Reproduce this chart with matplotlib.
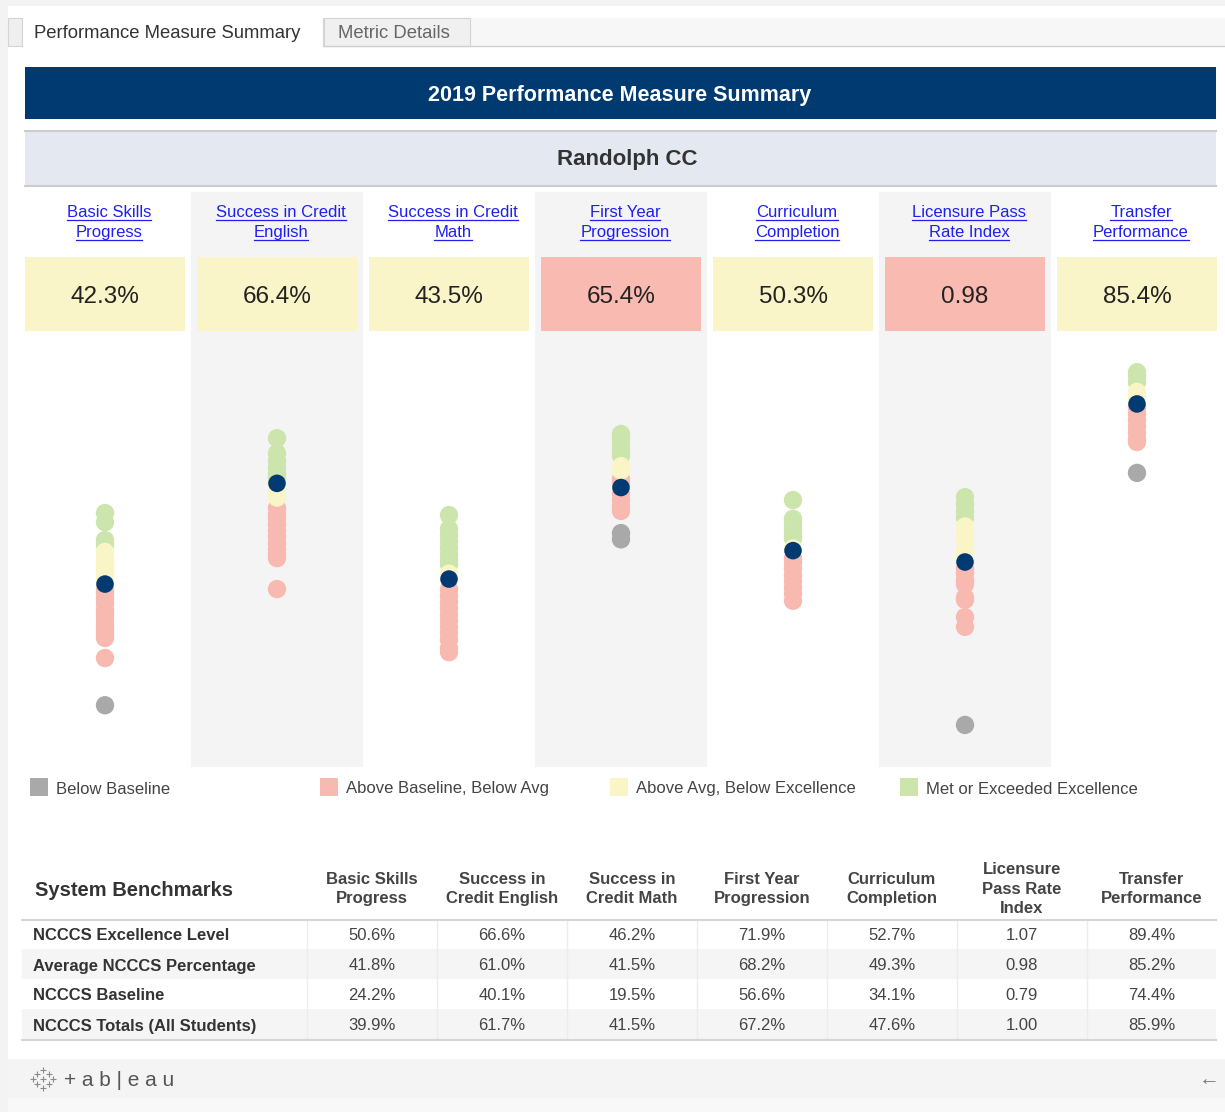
import matplotlib
matplotlib.use('Agg')
import matplotlib.pyplot as plt
from matplotlib.patches import Rectangle
from matplotlib import font_manager

plt.rcParams['font.family'] = ['Liberation Sans', 'DejaVu Sans']

# narrow font for the benchmark table, if there is one
try:
    font_manager.findfont('Liberation Sans Narrow', fallback_to_default=False)
    NARROW = ['Liberation Sans Narrow', 'Liberation Sans']
except Exception:
    NARROW = ['Liberation Sans', 'DejaVu Sans']

# ---- data ----
college = 'Randolph CC'
year = 2019
link_titles = [['Basic Skills', 'Progress'], ['Success in Credit', 'English'],
               ['Success in Credit', 'Math'], ['First Year', 'Progression'],
               ['Curriculum', 'Completion'], ['Licensure Pass', 'Rate Index'],
               ['Transfer', 'Performance']]
table_heads = ['Basic Skills\nProgress', 'Success in\nCredit English', 'Success in\nCredit Math',
               'First Year\nProgression', 'Curriculum\nCompletion', 'Licensure\nPass Rate\nIndex',
               'Transfer\nPerformance']
is_index = [False, False, False, False, False, True, False]

college_vals = [42.3, 66.4, 43.5, 65.4, 50.3, 0.98, 85.4]
college_level = [2, 2, 2, 1, 2, 1, 2]   # 0 below base, 1 base-avg, 2 avg-excellence, 3 excellence

excellence = [50.6, 66.6, 46.2, 71.9, 52.7, 1.07, 89.4]
average = [41.8, 61.0, 41.5, 68.2, 49.3, 0.98, 85.2]
baseline = [24.2, 40.1, 19.5, 56.6, 34.1, 0.79, 74.4]
totals = [39.9, 61.7, 41.5, 67.2, 47.6, 1.00, 85.9]
row_labels = ['NCCCS Excellence Level', 'Average NCCCS Percentage', 'NCCCS Baseline',
              'NCCCS Totals (All Students)']

# other colleges
basic_skills = [59.3, 57.1, 52.8, 51.6, 50.0, 49.0, 48.0, 47.0, 46.0, 45.0, 44.0, 43.0,
                41.0, 40.0, 38.7, 37.5, 36.0, 35.0, 33.8, 32.5, 31.5, 30.5, 29.4, 24.6, 13.3]
credit_english = [77.2, 73.6, 71.8, 70.2, 68.8, 67.5, 65.5, 64.3, 63.0,
                  60.5, 59.0, 57.9, 56.5, 55.0, 53.5, 52.0, 50.5, 49.5, 48.5, 41.1]
credit_math = [58.8, 55.5, 54.0, 52.5, 51.0, 49.5, 48.0, 47.0, 44.8,
               41.0, 39.5, 38.0, 36.5, 35.0, 33.5, 32.0, 30.5, 29.0, 27.0, 26.0]
first_year = [78.2, 77.0, 75.5, 74.1, 73.0, 70.5, 69.5,
              67.5, 66.5, 64.0, 62.5, 61.0, 59.8, 54.5, 53.0]
curriculum = [62.4, 57.9, 56.5, 55.2, 54.0, 53.2, 50.8,
              48.5, 47.5, 46.0, 44.5, 43.0, 41.5, 40.0, 38.3]
licensure = [1.126, 1.11, 1.095, 1.08, 1.06, 1.045, 1.03, 1.01, 0.995,
             0.965, 0.955, 0.94, 0.93, 0.90, 0.895, 0.856, 0.834, 0.613]
transfer = [93.0, 92.0, 90.5, 88.3, 87.0, 84.5, 83.0, 81.5, 80.0, 78.5, 77.0, 76.3, 68.9]
colleges = [basic_skills, credit_english, credit_math, first_year, curriculum, licensure, transfer]

legend_labels = ['Below Baseline', 'Above Baseline, Below Avg',
                 'Above Avg, Below Excellence', 'Met or Exceeded Excellence']

# ---- styles ----
LEVEL_COLORS = ['#a9a9a9', '#f8b9b0', '#faf5c6', '#cbe5ac']
BOX_COLORS = ['#a9a9a9', '#f9bab1', '#faf5c8', '#cbe5ac']
NAVY = '#003a70'
LINK = '#1f1fef'


def level(v, i):
    if v >= excellence[i]:
        return 3
    if v >= average[i]:
        return 2
    if v >= baseline[i]:
        return 1
    return 0


W, H = 1225, 1112
fig = plt.figure(figsize=(W / 100, H / 100), dpi=100)
bg = fig.add_axes([0, 0, 1, 1])
bg.set_xlim(0, W)
bg.set_ylim(H, 0)
bg.axis('off')


def rect(x0, y0, x1, y1, color, z=0, **kw):
    bg.add_patch(Rectangle((x0, y0), x1 - x0, y1 - y0, facecolor=color,
                           edgecolor=kw.pop('ec', 'none'), zorder=z, **kw))


# frame, tabs
rect(0, 0, 8, H, '#f3f3f3')
rect(0, 0, W, 6, '#f3f3f3')
rect(8, 18, W, 46, '#f7f7f7')
rect(8, 18, 22, 46, '#efefef', ec='#d4d4d4', lw=0.8)
rect(22, 18, 323, 47, 'white', z=1)
bg.plot([22, 22], [18, 46], color='#d4d4d4', lw=0.8, zorder=2)
bg.plot([323, 323], [18, 46], color='#d4d4d4', lw=0.8, zorder=2)
rect(324, 18, 470, 46, '#f0f0f0', ec='#d4d4d4', lw=0.8)
bg.plot([323, W], [46, 46], color='#d0d0d0', lw=1)
bg.text(34, 34, 'Performance Measure Summary', fontsize=13.3, color='#333333', va='center')
bg.text(338, 34, 'Metric Details', fontsize=13.3, color='#666666', va='center')

# banners
rect(25, 67, 1216, 119, NAVY)
bg.text(620, 96, f'{year} Performance Measure Summary', color='white', fontsize=15.5,
        fontweight='bold', ha='center', va='center')
rect(25, 131, 1216, 186, '#e4e8f0')
bg.plot([25, 1216], [131, 131], color='#cccccc', lw=1.5)
bg.plot([25, 1216], [186, 186], color='#cccccc', lw=1.5)
bg.text(627, 160, college, color='#333333', fontsize=16, fontweight='bold',
        ha='center', va='center')

COLW = 172
link_texts = []
for i in range(7):
    x0 = 25 + COLW * i
    cx = x0 + 80
    if i % 2 == 1:
        rect(x0 - 6, 192, x0 + COLW - 6, 767, '#f4f4f4')
    for k, line in enumerate(link_titles[i]):
        yb = 217 + 20 * k
        t = bg.text(cx + 4, yb, line, color=LINK, fontsize=12, ha='center', va='baseline')
        link_texts.append((t, yb))
    rect(x0, 257, x0 + 160, 331, BOX_COLORS[college_level[i]])
    v = college_vals[i]
    s = f'{v:.2f}' if is_index[i] else f'{v:.1f}%'
    bg.text(cx, 297, s, fontsize=17.5, color='#222222', ha='center', va='center')

    # dot strip, one axis per measure
    ax = fig.add_axes([x0 / W, 1 - 765 / H, 160 / W, 430 / H])
    ax.set_xlim(-1, 1)
    if is_index[i]:
        ax.set_ylim(0.5228, 1.4913)
    else:
        ax.set_ylim(-1.0, 101.9)
    ax.axis('off')
    vals = colleges[i]
    lv = [level(v2, i) for v2 in vals]
    for L in [0, 1, 3, 2]:
        ys = [v2 for v2, l2 in zip(vals, lv) if l2 == L]
        if ys:
            ax.scatter([0] * len(ys), ys, s=175, color=LEVEL_COLORS[L], edgecolors='none', zorder=2)
    ax.scatter([0], [college_vals[i]], s=160, color=NAVY, edgecolors='none', zorder=3)

# legend
for k, (lx, lab) in enumerate(zip([30, 320, 610, 900], legend_labels)):
    rect(lx, 778, lx + 18, 796, LEVEL_COLORS[k])
    bg.text(lx + 26, 789, lab, fontsize=12, color='#444444', va='center')

# benchmark table
bg.text(35, 890, 'System Benchmarks', fontsize=14.5, fontweight='bold', color='#333333',
        va='center')
bounds = [307 + 130 * j for j in range(8)]
bounds[-1] = 1216
rows = [excellence, average, baseline, totals]
for r in range(4):
    yc = 934 + 30 * r
    if r % 2 == 1:
        rect(22, yc - 15, 1216, yc + 15, '#f5f5f5')
    bg.text(33, yc + 2, row_labels[r], fontsize=12, fontweight='bold', family=NARROW,
            color='#333333', va='center')
    for j in range(7):
        v = rows[r][j]
        s = f'{v:.2f}' if is_index[j] else f'{v:.1f}%'
        bg.text(bounds[j] + 65, yc + 2, s, fontsize=12, family=NARROW, color='#444444',
                ha='center', va='center')
for j in range(7):
    bg.text(bounds[j] + 65, 889, table_heads[j], fontsize=12, fontweight='bold',
            family=NARROW, color='#444444', ha='center', va='center', linespacing=1.4)
    bg.plot([bounds[j], bounds[j]], [920, 1040], color='#ececec', lw=1, zorder=1)
bg.plot([22, 1216], [920, 920], color='#d6d6d6', lw=1.5, zorder=2)
bg.plot([22, 1216], [1040, 1040], color='#d6d6d6', lw=1.5, zorder=2)

# footer
rect(8, 1059, W, 1098, '#f4f4f4')
rect(8, 1098, W, H, '#f8f8f8')
for dx, dy in [(0, 0), (-6, -5), (6, -5), (-6, 5), (6, 5), (0, -9), (0, 9), (-10, 0), (10, 0)]:
    bg.plot(43 + dx, 1079 + dy, marker='+', color='#8a8a8a', ms=4 if (dx and dy) else 5, mew=0.8)
bg.text(64, 1080, '+ a b | e a u', fontsize=15, color='#555555', va='center')
bg.text(1199, 1080, '\u2190', fontsize=15, color='#777777', va='center')

# underline the link headers, just under the baseline
fig.canvas.draw()
inv = bg.transData.inverted()
for t, yb in link_texts:
    bb = t.get_window_extent()
    xa = inv.transform([bb.x0, 0])[0]
    xb = inv.transform([bb.x1, 0])[0]
    bg.plot([xa, xb], [yb + 2.5, yb + 2.5], color=LINK, lw=0.9)

fig.savefig('out.png', dpi=100)
